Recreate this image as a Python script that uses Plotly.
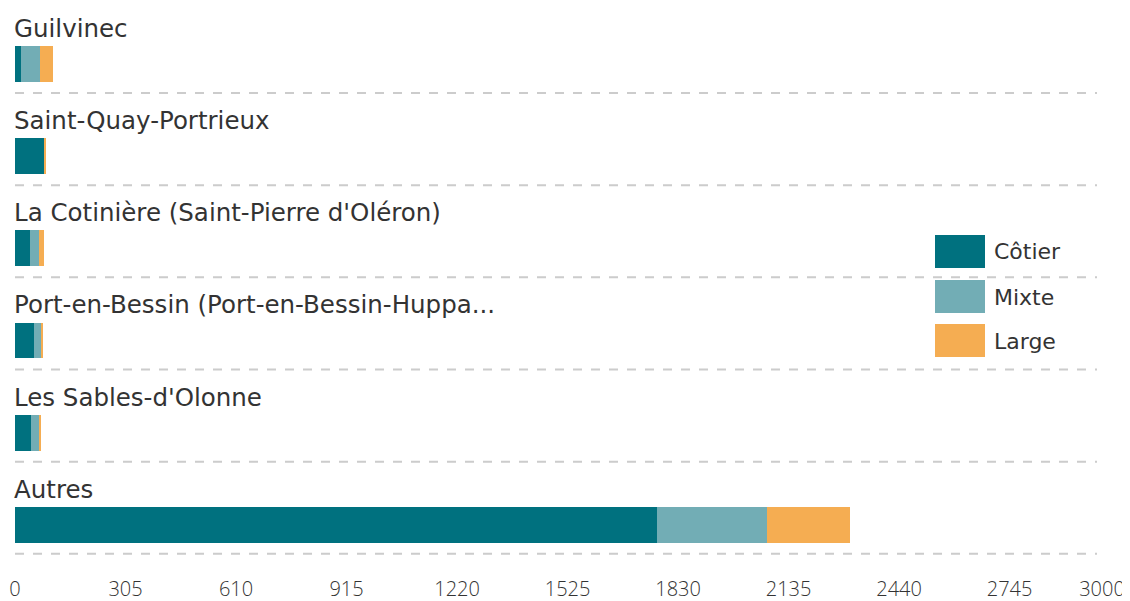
import plotly.graph_objects as go

categories = ["Guilvinec", "Saint-Quay-Portrieux", "La Cotinière (Saint-Pierre d'Oléron)",
              "Port-en-Bessin (Port-en-Bessin-Huppa...", "Les Sables-d'Olonne", "Autres"]
series_names = ["Côtier", "Mixte", "Large"]
cotier = [16, 82, 41, 52, 44, 1772]
mixte = [52, 0, 26, 20, 22, 304]
large = [36, 1, 14, 4, 7, 229]
tick_vals = [0, 305, 610, 915, 1220, 1525, 1830, 2135, 2440, 2745, 3000]
colors = ["#00717f", "#72adb5", "#f5ad52"]

OFF = 8  # page body margin
W, H = 1130 - OFF, 601 - OFF
L, R, T, B = 15 - OFF, 28, 0, 31
PW, PH = W - L - R, H - T - B

fig = go.Figure()
for name, vals, col in zip(series_names, [cotier, mixte, large], colors):
    fig.add_trace(go.Bar(y=categories, x=vals, orientation="h", name=name,
                         marker=dict(color=col, line=dict(width=0)), showlegend=False))

label_font = "DejaVu Sans"
tick_font = "Open Sans"
annotations = []
for c in categories:
    annotations.append(dict(x=0, y=c, xref="x", yref="y", text=c, showarrow=False,
                            xanchor="left", yanchor="bottom", yshift=19, xshift=-3,
                            font=dict(size=24.5, color="#333333", family=label_font, weight=400)))

shapes = []
for i in range(len(categories)):
    shapes.append(dict(type="line", xref="paper", yref="y", x0=0, x1=(1097 - 15) / PW,
                       y0=i + 0.315, y1=i + 0.315,
                       line=dict(color="#cccccc", width=2, dash="dash"), layer="below"))

def px(x):
    return (x - 15) / PW

def py(y):
    return 1 - (y - OFF) / PH

legend_tops = [235, 280, 324]
for name, col, top in zip(series_names, colors, legend_tops):
    shapes.append(dict(type="rect", xref="paper", yref="paper", x0=px(935), x1=px(985),
                       y0=py(top + 33), y1=py(top), fillcolor=col, line=dict(width=0)))
    annotations.append(dict(x=px(992), y=py(top + 17), xref="paper", yref="paper", text=name,
                            showarrow=False, xanchor="left", yanchor="middle",
                            font=dict(size=22, color="#333333", family=label_font, weight=400)))

fig.update_layout(
    width=W, height=H, margin=dict(l=L, r=R, t=T, b=B, autoexpand=False),
    barmode="stack", bargap=0.61,
    plot_bgcolor="white", paper_bgcolor="white",
    annotations=annotations, shapes=shapes,
    xaxis=dict(range=[0, 3000], tickvals=tick_vals, ticktext=[str(v) for v in tick_vals],
               showgrid=False, zeroline=False, showline=False, ticks="", automargin=False,
               ticklabelstandoff=5,
               tickfont=dict(size=20, color="#333333", family=tick_font, weight=300)),
    yaxis=dict(categoryorder="array", categoryarray=categories, automargin=False,
               range=[5.49, -0.607], showticklabels=False, showgrid=False,
               zeroline=False, showline=False, ticks=""),
)

fig.write_html("out.html")
